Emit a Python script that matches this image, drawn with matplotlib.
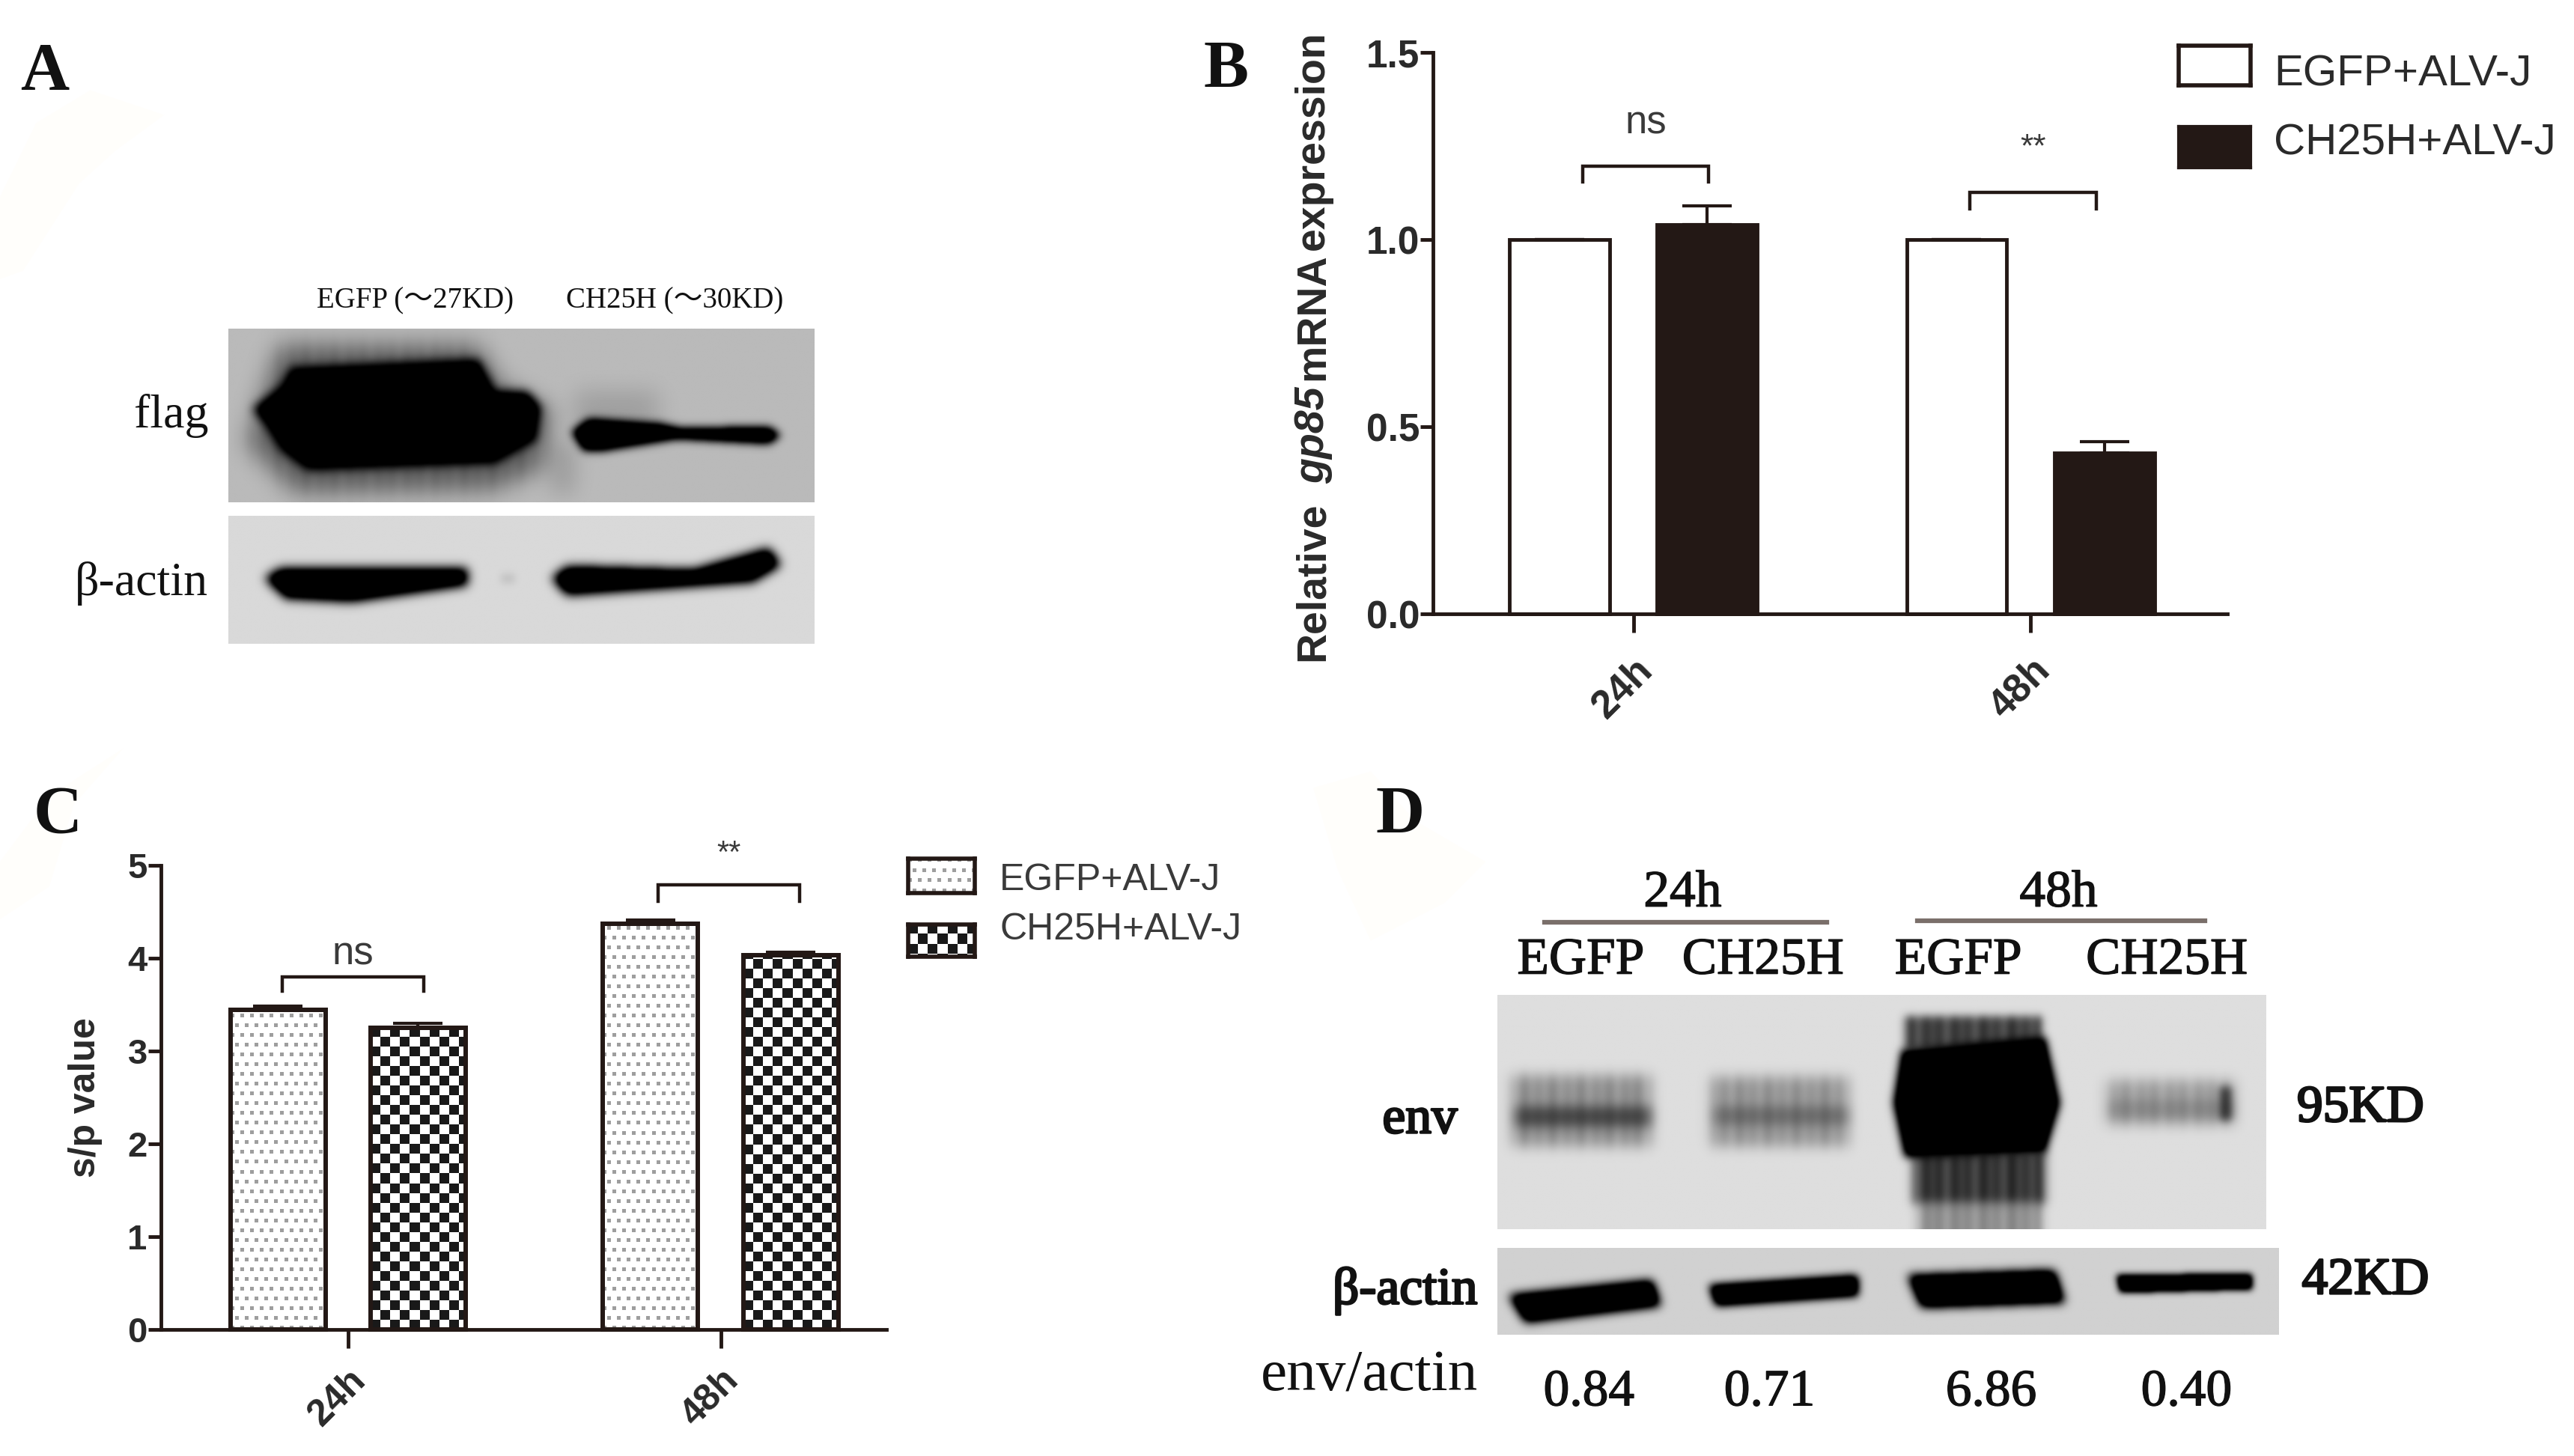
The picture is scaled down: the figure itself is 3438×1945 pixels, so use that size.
import numpy as np
import matplotlib
matplotlib.use('agg')
import matplotlib.pyplot as plt
import matplotlib.patheffects as pe
from matplotlib.patches import Polygon
from matplotlib.path import Path

# everything is placed in the coordinates of the 1568x887 view of the figure
W, H = 1568, 887
DARK = '#231815'
SANS = 'Liberation Sans'
SERIF = 'Liberation Serif'

# Panel B
groups = ['24h', '48h']
b_egfp = [1.0, 1.0]
b_ch25h = [1.04, 0.43]
b_egfp_err = [0.0, 0.0]
b_ch25h_err = [0.05, 0.03]
b_yticks = [0.0, 0.5, 1.0, 1.5]
b_sig = ['ns', '**']
b_bracket_top = [1.197, 1.127]
b_bracket_low = [1.154, 1.083]
b_bracket_x = [(-0.128, 0.19), (-0.153, 0.165)]

# Panel C
c_egfp = [3.44, 4.37]
c_ch25h = [3.25, 4.03]
c_egfp_err = [0.04, 0.04]
c_ch25h_err = [0.05, 0.03]
c_yticks = [0, 1, 2, 3, 4, 5]
c_sig = ['ns', '**']
c_bracket_top = [3.80, 4.79]
c_bracket_low = [3.64, 4.61]
c_bracket_x = [(-0.176, 0.203), (-0.167, 0.211)]

legend_labels = ['EGFP+ALV-J', 'CH25H+ALV-J']

# Panel D
d_lanes = ['EGFP', 'CH25H', 'EGFP', 'CH25H']
d_ratio = ['0.84', '0.71', '6.86', '0.40']

fig = plt.figure(figsize=(34.38, 19.45), dpi=100, facecolor='white')


def put(x, y, s, size, font=SERIF, ha='center', va='center', heavy=0, **kw):
    kw.setdefault('color', '#111111')
    t = fig.text(x / W, 1 - (y + 2.5) / H, s, fontsize=size, family=font, ha=ha, va=va, **kw)
    if heavy:
        t.set_path_effects([pe.withStroke(linewidth=heavy, foreground=kw['color'])])
    return t


def box(x0, y0, x1, y1):
    return [x0 / W, 1 - y1 / H, (x1 - x0) / W, (y1 - y0) / H]


def blur(a, sigma):
    r = int(3 * sigma) + 1
    k = np.exp(-0.5 * (np.arange(-r, r + 1) / sigma) ** 2)
    k /= k.sum()
    a = np.pad(a, r, mode='edge')
    a = np.apply_along_axis(np.convolve, 0, a, k, 'same')
    a = np.apply_along_axis(np.convolve, 1, a, k, 'same')
    return a[r:-r, r:-r]


def blot(x0, y0, x1, y1, bg, layers):
    # layers are (polygon, darkness, blur, streak)
    xs = np.arange(x0, x1, 0.5)
    ys = np.arange(y0, y1, 0.5)
    gx, gy = np.meshgrid(xs, ys)
    pts = np.column_stack([gx.ravel(), gy.ravel()])
    img = np.full(gx.shape, float(bg))
    for poly, dark, sigma, streak in layers:
        m = Path(poly).contains_points(pts).reshape(gx.shape).astype(float)
        m = blur(m, sigma * 2)
        if streak:
            m *= 1 + streak * np.sin(gx * 0.55) * np.sin(gx * 0.17 + 1)
        img *= 1 - np.clip(m * dark, 0, 1)
    ax = fig.add_axes(box(x0, y0, x1, y1))
    ax.imshow(blur(img, 1.0), cmap='gray', vmin=0, vmax=1, aspect='auto', interpolation='bilinear')
    ax.axis('off')


def rect(x0, y0, x1, y1):
    return [(x0, y0), (x1, y0), (x1, y1), (x0, y1)]


def pattern(kind, w, h):
    yy, xx = np.indices((h, w))
    if kind == 'check':
        on = ((xx // 13) + (yy // 13)) % 2 == 0
        return np.where(on, 0.1, 1.0)
    row = yy // 13
    dx = (xx + 7 * (row % 2)) % 13
    dy = yy % 13
    return np.where((dx < 5) & (dy < 5), 0.62, 1.0)


def fill_bar(ax, bar, kind, px_x, px_y):
    bx, by = bar.get_x(), bar.get_y()
    bw, bh = bar.get_width(), bar.get_height()
    arr = pattern(kind, int(bw * px_x), int(bh * px_y))
    im = ax.imshow(arr, cmap='gray', vmin=0, vmax=1, aspect='auto', zorder=1.5,
                   extent=(bx, bx + bw, by, by + bh), origin='lower', interpolation='nearest')
    im.set_clip_path(bar)


def bar_panel(rect_px, xlim, ylim, yticks, ticklabels, first, second, err1, err2, width, off,
              tick_size, label_size, tick_pad, x_pad, ystep, fills, edge):
    ax = fig.add_axes(box(*rect_px))
    x = np.arange(len(first))
    kw = dict(ecolor=DARK, elinewidth=3, capsize=24, capthick=3)
    b1 = ax.bar(x - off, first, width, color=fills[0], edgecolor=DARK, linewidth=edge,
                yerr=[[0] * len(err1), err1], error_kw=kw, zorder=2, clip_on=False)
    b2 = ax.bar(x + off, second, width, color=fills[1], edgecolor=DARK, linewidth=edge,
                yerr=[[0] * len(err2), err2], error_kw=kw, zorder=2, clip_on=False)
    ax.set_xlim(xlim)
    ax.set_ylim(ylim)
    for s in ['top', 'right']:
        ax.spines[s].set_visible(False)
    for s in ['left', 'bottom']:
        ax.spines[s].set_linewidth(3.5)
        ax.spines[s].set_color(DARK)
    ax.spines['bottom'].set_zorder(4)
    ax.set_yticks(yticks)
    ax.set_yticklabels([ystep % v for v in yticks], fontsize=tick_size, family=SANS,
                       fontweight='bold', color='#2a2a2a')
    ax.set_xticks(x)
    ax.set_xticklabels(ticklabels, fontsize=label_size, family=SANS, fontweight='bold',
                       color='#2a2a2a', rotation=45, ha='right', rotation_mode='anchor')
    ax.tick_params(axis='y', length=12, width=3.5, color=DARK, pad=tick_pad)
    ax.tick_params(axis='x', length=18, width=3.5, color=DARK, pad=x_pad)
    ax.patch.set_alpha(0)
    return ax, b1, b2


def brackets(ax, tops, lows, xs, sig, sizes, offs):
    for i, (top, low, (a, b)) in enumerate(zip(tops, lows, xs)):
        ax.plot([i + a, i + a, i + b, i + b], [low, top, top, low], color=DARK, lw=3.2,
                solid_joinstyle='miter', clip_on=False)
        ax.text(i + (a + b) / 2, top + offs[i], sig[i], fontsize=sizes[i], family=SANS,
                color='#3a3a3a', ha='center', va='center')


def swatch(x0, y0, x1, y1, kind, lw):
    ax = fig.add_axes(box(x0, y0, x1, y1))
    if kind == 'white':
        ax.set_facecolor('white')
    elif kind == 'dark':
        ax.set_facecolor(DARK)
    else:
        ax.imshow(pattern(kind, int((x1 - x0) * 2.19), int((y1 - y0) * 2.19)), cmap='gray',
                  vmin=0, vmax=1, aspect='auto', interpolation='nearest')
    ax.set_xticks([])
    ax.set_yticks([])
    for s in ax.spines.values():
        s.set_linewidth(lw)
        s.set_color(DARK)


# faint cream marks behind the panels
for pts in ([(0, 120), (22, 75), (55, 55), (100, 70), (70, 92), (48, 112), (14, 165), (0, 170)],
            [(0, 525), (30, 485), (75, 456), (45, 490), (30, 540), (0, 560)],
            [(800, 480), (835, 470), (862, 500), (905, 525), (880, 550), (835, 573), (815, 530)]):
    fig.add_artist(Polygon([(a / W, 1 - b / H) for a, b in pts], closed=True, facecolor='#fffefb',
                           edgecolor='none', transform=fig.transFigure, zorder=-5))

# Panel A
blot(139, 200, 496, 306, 0.73, [
    ([(170, 210), (290, 210), (305, 235), (335, 250), (330, 285), (300, 298), (180, 300), (150, 270)], 0.5, 7, 0.05),
    ([(350, 238), (400, 238), (400, 262), (350, 262)], 0.15, 7, 0),
    ([(335, 270), (350, 270), (350, 300), (335, 300)], 0.15, 6, 0),
    ([(154, 249), (171, 235), (177, 224), (291, 219), (301, 238), (321, 239), (329, 248), (326, 268),
      (301, 282), (187, 286), (171, 274), (161, 258)], 1.5, 3.0, 0),
    ([(348, 263), (358, 255), (401, 258), (415, 261), (468, 260), (475, 265), (468, 270), (412, 267),
      (368, 274), (355, 274)], 1.6, 2.6, 0),
])
blot(139, 314, 496, 392, 0.85, [
    ([(161, 352), (171, 346), (284, 346), (284, 356), (214, 366), (174, 364)], 1.6, 3.2, 0),
    ([(336, 352), (345, 345), (422, 347), (468, 334), (475, 344), (458, 354), (345, 362)], 1.6, 3.2, 0),
    ([(305, 349), (313, 349), (313, 355), (305, 355)], 0.1, 2, 0),
])
put(27, 42, 'A', 65, fontweight='bold')
put(253, 181, 'EGFP (～27KD)', 28, font=[SERIF, 'Noto Sans CJK SC'])
put(411, 181, 'CH25H (～30KD)', 28, font=[SERIF, 'Noto Sans CJK SC'])
put(127, 251, 'flag', 46, ha='right')
put(127, 353, 'β-actin', 46, ha='right')

# Panel B
ax, b1, b2 = bar_panel((873, 32, 1357, 374), (-0.504, 1.496), (0, 1.5), b_yticks, groups,
                       b_egfp, b_ch25h, b_egfp_err, b_ch25h_err, 0.252, 0.186,
                       37, 38, 1, 18, '%.1f', ('white', DARK), 3.5)
brackets(ax, b_bracket_top, b_bracket_low, b_bracket_x, b_sig, [38, 32], [0.115, 0.118])
put(747, 41, 'B', 65, fontweight='bold')
for y, s, style in [(400, 'Relative', 'normal'), (292, 'gp85', 'italic'),
                    (229, 'mRNA', 'normal'), (150, 'expression', 'normal')]:
    put(800, y, s, 40, font=SANS, ha='center', va='bottom', rotation=90, fontweight='bold',
        fontstyle=style, color='#2a2a2a')
swatch(1327, 28, 1371, 52, 'white', 4)
swatch(1327, 77, 1371, 102, 'dark', 3)
put(1385, 43, legend_labels[0], 42, font=SANS, ha='left', color='#2a2a2a')
put(1385, 85, legend_labels[1], 42, font=SANS, ha='left', color='#2a2a2a')

# Panel C
ax, b1, b2 = bar_panel((98, 527, 540, 810), (-0.502, 1.445), (0, 5), c_yticks, groups,
                       c_egfp, c_ch25h, c_egfp_err, c_ch25h_err, 0.255, 0.188,
                       34, 36, 1, 14, '%d', ('none', 'none'), 4.3)
for b in b1:
    fill_bar(ax, b, 'dots', 227 * 2.1926, 283 * 2.1926 / 5)
for b in b2:
    fill_bar(ax, b, 'check', 227 * 2.1926, 283 * 2.1926 / 5)
ax.set_xlim(-0.502, 1.445)
ax.set_ylim(0, 5)
brackets(ax, c_bracket_top, c_bracket_low, c_bracket_x, c_sig, [38, 30], [0.245, 0.33])
put(35, 495, 'C', 65, fontweight='bold')
put(52, 666, 's/p value', 36, font=SANS, rotation=90, fontweight='bold', color='#2a2a2a')
swatch(553, 523, 594, 544, 'dots', 4)
swatch(553, 563, 594, 583, 'check', 4)
put(609, 534, legend_labels[0], 36, font=SANS, ha='left', color='#3a3a3a')
put(609, 564, legend_labels[1], 36, font=SANS, ha='left', color='#3a3a3a')

# Panel D
blot(912, 606, 1380, 749, 0.87, [
    (rect(921, 655, 1005, 698), 0.34, 4, 0.12),
    (rect(923, 674, 1005, 686), 0.55, 3.5, 0),
    (rect(1042, 656, 1125, 698), 0.32, 4, 0.12),
    (rect(1044, 674, 1125, 685), 0.32, 3.5, 0),
    (rect(1160, 619, 1243, 640), 0.7, 2.5, 0.1),
    (rect(1165, 700, 1245, 733), 0.75, 3, 0.1),
    (rect(1168, 732, 1243, 749), 0.35, 3, 0.15),
    ([(1153, 672), (1158, 640), (1245, 632), (1254, 672), (1245, 702), (1160, 705)], 1.5, 2.6, 0),
    (rect(1283, 658, 1360, 685), 0.28, 4, 0.12),
    (rect(1284, 670, 1360, 681), 0.16, 3, 0),
    (rect(1352, 662, 1358, 682), 0.7, 2.4, 0),
])
blot(912, 760, 1388, 813, 0.82, [
    ([(919, 789), (1006, 780), (1011, 795), (929, 805)], 1.8, 3.0, 0),
    ([(1041, 783), (1131, 777), (1131, 789), (1045, 795)], 1.8, 2.6, 0),
    ([(1162, 777), (1251, 774), (1257, 793), (1170, 796)], 1.8, 3.0, 0),
    ([(1289, 777), (1371, 776), (1371, 785), (1291, 787)], 1.7, 2.0, 0),
])
put(853, 495, 'D', 65, fontweight='bold')
put(1025, 542, groups[0], 50, heavy=1)
put(1254, 542, groups[1], 50, heavy=1)
fig.add_artist(plt.Line2D([941 / W, 1113 / W], [1 - 562 / H] * 2, color='#7a6f6a', lw=4.5))
fig.add_artist(plt.Line2D([1168 / W, 1343 / W], [1 - 561 / H] * 2, color='#7a6f6a', lw=4.5))
for xc, lane in zip([963, 1074, 1193, 1320], d_lanes):
    put(xc, 583, lane, 50, heavy=1)
put(865, 680, 'env', 50, heavy=2)
put(856, 784, 'β-actin', 50, heavy=2)
put(1438, 673, '95KD', 50, heavy=2)
put(1441, 778, '42KD', 50, heavy=2)
put(834, 836, 'env/actin', 57)
for xc, val in zip([968, 1078, 1213, 1332], d_ratio):
    put(xc, 846, val, 50, heavy=1)

fig.savefig('out.png', dpi=100)
